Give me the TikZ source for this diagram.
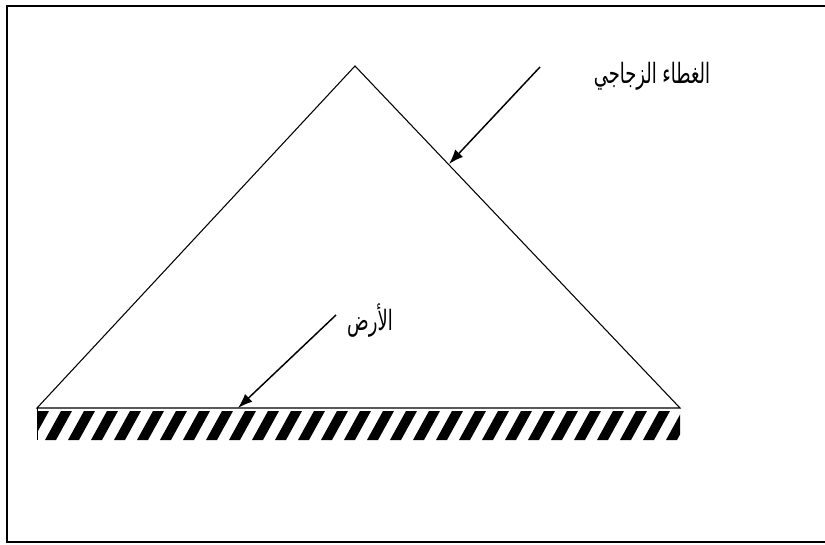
\documentclass[tikz,border=0pt]{standalone}
\usepackage{fontspec}
\newfontfamily\arabicfont[Script=Arabic,FakeStretch=0.64]{DejaVu Sans}
\TeXXeTstate=1
\usetikzlibrary{arrows.meta}

\begin{document}
\begin{tikzpicture}[x=0.75pt,y=-0.75pt,
  frame/.style={draw=black,line width=1.6pt},
  glass/.style={draw=black,line width=0.8pt},
  pointer/.style={-{Latex[length=11pt,width=8pt]},line width=1.1pt},
  label/.style={font=\arabicfont\fontsize{21}{24}\selectfont,inner sep=1pt}]
  \useasboundingbox (0,0) rectangle (825,545);

  % Frame
  \draw[frame] (830,6) -- (7,6) -- (7,542) -- (830,542);

  % Glass cover
  \coordinate (apex) at (355,66);
  \coordinate (baseL) at (37,408);
  \coordinate (baseR) at (680,408);
  \draw[glass] (baseL) -- (apex) -- (baseR) -- cycle;

  % Ground hatching
  \draw[line width=0.6pt] (baseL) -- (37,440);
  \begin{scope}
    \clip (37,411) rectangle (680,440);
    \foreach \k in {0,...,28}{
      \fill ({22+23*\k},440) -- ({33+23*\k},440) -- ({49+23*\k},411) -- ({38+23*\k},411) -- cycle;
    }
  \end{scope}

  % Labels
  \node[label] (glasslbl) at (652,76) {\beginR الغطاء الزجاجي\endR};
  \node[label] (groundlbl) at (370,321) {\beginR الأرض\endR};

  % Pointers
  \coordinate (glasstail) at (540,67);
  \coordinate (glasstip) at (449,164);
  \coordinate (groundtail) at (336,315);
  \coordinate (groundtip) at (238,408);
  \draw[pointer] (glasstail) -- (glasstip);
  \draw[pointer] (groundtail) -- (groundtip);
\end{tikzpicture}
\end{document}
